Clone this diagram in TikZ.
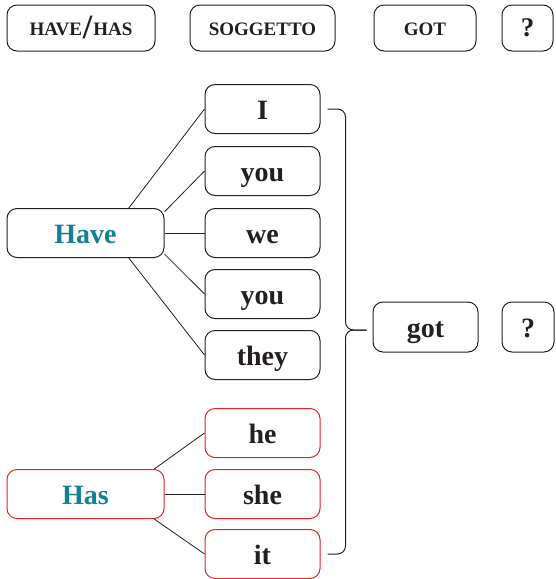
\documentclass[tikz,border=0pt]{standalone}
\usepackage{fontspec}
\setmainfont{Liberation Serif}
\usetikzlibrary{positioning,calc}
\definecolor{verbteal}{RGB}{18,128,150}
\definecolor{hasred}{RGB}{232,32,40}
\definecolor{ink}{RGB}{35,31,32}

\begin{document}
\begin{tikzpicture}[x=1pt,y=-1pt,semithick,color=ink,
  box/.style={draw,rounded corners=10pt,line width=1pt,inner sep=0pt,
    text height=20pt,text depth=0pt,
    minimum height=49pt,font=\fontsize{28}{30}\selectfont\bfseries},
  head/.style={box,minimum height=46pt,text height=14pt,
    font=\fontsize{19}{22}\selectfont\bfseries},
  pron/.style={box,minimum width=115pt},
  verb/.style={box,minimum width=157pt,text=verbteal},
  hasbox/.style={draw=hasred}] %,font=\sffamily]
\useasboundingbox (0,0) rectangle (555,579);
% header row
\node[head,minimum width=148pt] (HaveHas) at (81,28)
  {HAVE\kern1pt\raisebox{-3pt}{\fontsize{34}{34}\selectfont/}\kern1pt HAS};
\node[head,minimum width=145pt] (Soggetto) at (262.5,28) {SOGGETTO};
\node[head,minimum width=102pt] (Got) at (425,28) {GOT};
\node[head,minimum width=51pt,text height=17pt,
  font=\fontsize{27}{30}\selectfont\bfseries] (Quest) at (527.5,28) {?};
% subjects
\node[pron] (I) at (262.5,109) {I};
\node[pron] (You) at (262.5,171) {you};
\node[pron] (We) at (262.5,233) {we};
\node[pron] (YouPl) at (262.5,294) {you};
\node[pron] (They) at (262.5,355) {they};
\node[pron,hasbox] (He) at (262.5,433) {he};
\node[pron,hasbox] (She) at (262.5,494) {she};
\node[pron,hasbox] (It) at (262.5,554) {it};
% auxiliaries
\node[verb] (Have) at (85.5,233) {Have};
\node[verb,hasbox] (Has) at (85.5,494) {Has};
\node[box,minimum width=105pt,minimum height=50pt] (got) at (425.5,327) {got};
\node[box,minimum width=52pt,minimum height=50pt] (quest) at (528,327) {?};
\begin{scope}[line width=0.8pt]
\draw (Have.30) -- (I.west);
\draw (Have.15) -- (You.west);
\draw (Have.east) -- (We.west);
\draw (Have.-15) -- (YouPl.west);
\draw (Have.-30) -- (They.west);
\draw (Has.20) -- (He.west);
\draw (Has.east) -- (She.west);
\draw (Has.-20) -- (It.west);
\end{scope}
% brace towards got
\coordinate (tip) at ($(got.west)+(-6,3)$);
\draw[line width=1pt,rounded corners=8pt] (I.east) ++(7,0) -- ++(18,0) |- (tip);
\draw[line width=1pt,rounded corners=8pt] (It.east) ++(7,0) -- ++(18,0) |- (tip);
\end{tikzpicture}
\end{document}
